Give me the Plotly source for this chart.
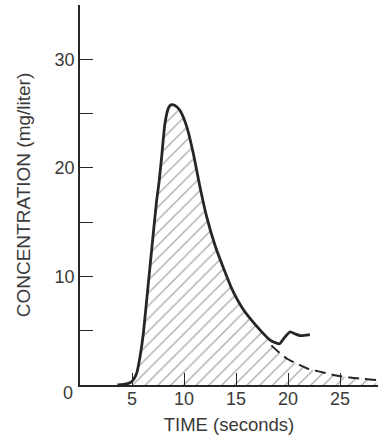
import plotly.graph_objects as go

# Measured curve (solid)
time_solid = [3.6, 4.2, 4.8, 5.1, 5.45, 5.77, 6.09, 6.41, 6.73, 7.05, 7.37, 7.6, 7.85,
              8.17, 8.5, 8.75, 9.13, 9.6, 10.26, 10.9, 11.5, 12.15, 13.0, 13.8, 14.6,
              15.7, 17.0, 18.27, 18.9, 19.2, 19.6, 20.2, 20.7, 21.2, 22.1]
conc_solid = [0.0, 0.05, 0.2, 0.45, 1.08, 2.6, 4.76, 7.8, 10.9, 14.0, 17.0, 18.7, 21.0,
              24.1, 25.5, 25.8, 25.75, 25.3, 23.8, 21.3, 18.4, 15.6, 12.8, 10.75, 8.85,
              6.95, 5.4, 4.14, 3.85, 3.8, 4.3, 4.9, 4.7, 4.55, 4.65]

# Extrapolated decay (dashed)
time_extrap = [18.4, 19.2, 20.0, 21.0, 21.8, 22.8, 23.7, 24.5, 25.3, 26.3, 27.3, 28.5]
conc_extrap = [3.65, 2.95, 2.37, 1.9, 1.54, 1.28, 1.08, 0.9, 0.76, 0.65, 0.55, 0.46]

x_ticks = [5, 10, 15, 20, 25]
x_ticktext = ["5", "10", "15", "20", "25"]
y_ticks = [5, 10, 15, 20, 25, 30, 35]
y_ticktext = ["", "10", "", "20", "", "30", ""]

INK = "#262626"
TXT = "#3a3a3a"
FONT = "Liberation Sans"

# area under curve: solid part up to start of extrapolation, then extrapolation
fill_x = [t for t in time_solid if t < time_extrap[0]] + time_extrap
fill_y = [c for t, c in zip(time_solid, conc_solid) if t < time_extrap[0]] + conc_extrap

fig = go.Figure()
fig.add_trace(go.Scatter(
    x=fill_x, y=fill_y, mode="lines", fill="tozeroy",
    line=dict(width=0, shape="spline", smoothing=0.6),
    fillcolor="rgba(0,0,0,0)",
    fillpattern=dict(shape="/", size=9, solidity=0.15, fgcolor="#555555", bgcolor="white"),
    hoverinfo="skip", showlegend=False))
fig.add_trace(go.Scatter(
    x=time_extrap, y=conc_extrap, mode="lines",
    line=dict(color=INK, width=2, dash="11px,6px", shape="spline"),
    showlegend=False))
fig.add_trace(go.Scatter(
    x=time_solid, y=conc_solid, mode="lines",
    line=dict(color=INK, width=2.8, shape="spline", smoothing=0.6),
    showlegend=False))

fig.update_layout(
    width=380, height=444,
    margin=dict(l=80, r=2, t=5, b=59),
    paper_bgcolor="white", plot_bgcolor="white",
    font=dict(family=FONT, color=TXT),
    xaxis=dict(range=[0, 28.65], showgrid=False, zeroline=False,
               showline=True, linecolor=INK, linewidth=1.6,
               tickvals=x_ticks, ticktext=x_ticktext, ticks="inside",
               ticklen=12, tickwidth=1.3, tickcolor=INK,
               tickfont=dict(size=18, color=TXT), ticklabelstandoff=-3,
               title=dict(text="TIME (seconds)", font=dict(size=18.5, color=TXT), standoff=10)),
    yaxis=dict(range=[0, 35], showgrid=False, zeroline=False,
               showline=True, linecolor=INK, linewidth=1.6,
               tickvals=y_ticks, ticktext=y_ticktext, ticks="inside",
               ticklen=13, tickwidth=1.3, tickcolor=INK,
               tickfont=dict(size=18, color=TXT),
               title=dict(text="CONCENTRATION (mg/liter)", font=dict(size=19, color=TXT), standoff=19)),
    annotations=[dict(x=0, y=0, xref="x", yref="y", text="0", showarrow=False,
                      xanchor="right", yanchor="middle", xshift=-5, yshift=-8,
                      font=dict(size=18, color=TXT))],
)

fig.write_html("out.html")
